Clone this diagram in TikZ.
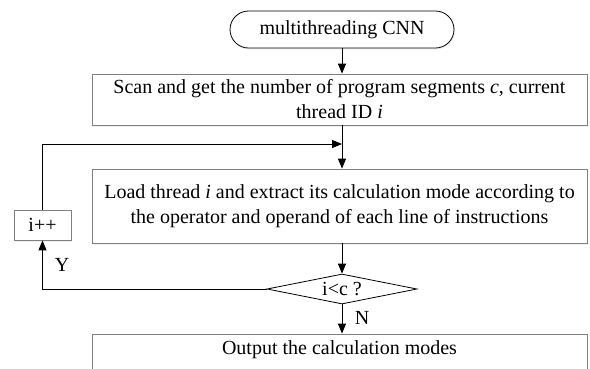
\documentclass[tikz,border=0pt]{standalone}
\usepackage{fontspec}
\setmainfont{Liberation Serif}
\usetikzlibrary{shapes.misc,shapes.geometric,arrows.meta,shadows}

\tikzset{
  txt/.style={font=\fontsize{20}{25}\selectfont, align=center, inner sep=0pt},
  soft/.style={drop shadow={opacity=0.12, shadow xshift=1pt, shadow yshift=-1.5pt}},
  procbox/.style={txt, draw=black!50, line width=0.8pt, fill=white, soft,
    minimum width=495pt},
  termbox/.style={txt, draw=black, line width=0.8pt, fill=white, soft,
    rounded rectangle, minimum width=224pt, minimum height=37pt},
  decbox/.style={txt, draw=black, line width=0.8pt, fill=white, diamond,
    aspect=5, minimum width=150pt, minimum height=30pt},
  incbox/.style={txt, draw=black!50, line width=0.8pt, fill=white, soft,
    minimum width=57pt, minimum height=30pt},
  flow/.style={draw=black, line width=0.9pt},
  arr/.style={flow, -{Triangle[length=10pt,width=8pt]}},
  lbl/.style={font=\fontsize{20}{24}\selectfont, inner sep=0pt}
}

\begin{document}
\begin{tikzpicture}[x=1pt,y=-1pt]
  \useasboundingbox (0,0) rectangle (590,368);
  \clip (0,0) rectangle (590,368);

  % flow steps
  \node[termbox] (start) at (342,29.5) {multithreading CNN};
  \node[procbox, minimum height=51pt] (scan) at (339.5,99.5)
    {Scan and get the number of program segments \textit{c}, current\\
     thread ID \textit{i}};
  \node[procbox, minimum height=74pt] (load) at (339.5,206)
    {Load thread \textit{i} and extract its calculation mode according to\\
     the operator and operand of each line of instructions};
  \node[decbox] (test) at (342,289) {i<c ?};
  \node[procbox, minimum height=60pt, text depth=32pt] (out) at (339.5,364)
    {Output the calculation modes};
  \node[incbox] (inc) at (42.5,225) {i++};

  % junction where the loop rejoins the main line
  \coordinate (join) at (342,144);

  % main line
  \draw[arr] (start.south) -- (start.south |- scan.north);
  \draw[flow] (scan.south -| start) -- (join);
  \draw[arr] (join) -- (load.north -| start);
  \draw[arr] (load.south -| start) -- (test.north);
  \draw[arr] (test.south) -- (test.south |- out.north);

  % loop back through i++
  \draw[arr] (test.west) -- (test.west -| inc) -- (inc.south);
  \draw[arr] (inc.north) -- (inc.north |- join) -- (join);

  % branch labels
  \node[lbl] (ylbl) at (62,265) {Y};
  \node[lbl] (nlbl) at (362,318) {N};
\end{tikzpicture}
\end{document}
